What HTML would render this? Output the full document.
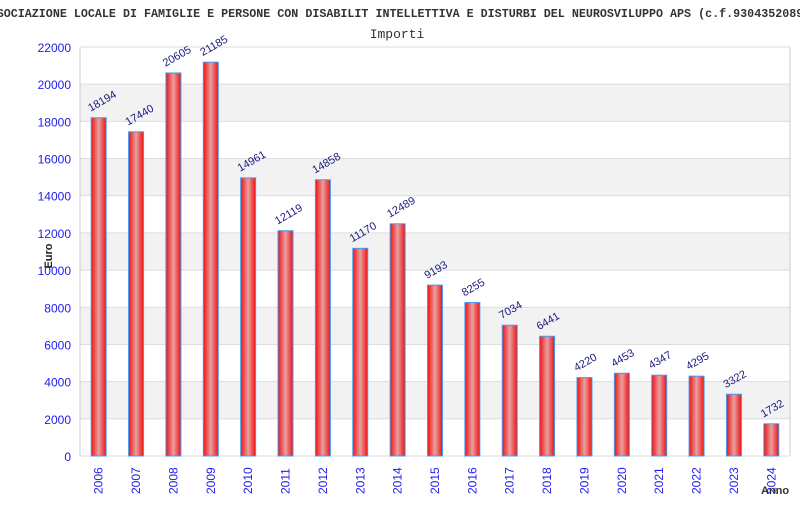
<!DOCTYPE html>
<html><head><meta charset="utf-8"><style>
body{margin:0;background:#fff;width:800px;height:500px;overflow:hidden}
</style></head><body>
<svg width="800" height="500" xmlns="http://www.w3.org/2000/svg">
<defs><linearGradient id="g" x1="0" x2="1"><stop offset="0" stop-color="#f01010"/><stop offset="0.5" stop-color="#e8a0a0"/><stop offset="1" stop-color="#f01010"/></linearGradient></defs>
<text x="400" y="17" text-anchor="middle" font-family="Liberation Mono, monospace" font-weight="bold" font-size="11.7" fill="#333">ASSOCIAZIONE LOCALE DI FAMIGLIE E PERSONE CON DISABILIT INTELLETTIVA E DISTURBI DEL NEUROSVILUPPO APS (c.f.93043520896)</text>
<text x="397" y="38" text-anchor="middle" font-family="Liberation Mono, monospace" font-size="13" fill="#333">Importi</text>
<g id="grid"></g><g id="bars"></g><g id="labels"></g>
<text transform="translate(52,256) rotate(-90)" text-anchor="middle" font-family="Liberation Sans, sans-serif" font-weight="bold" font-size="11" fill="#222">Euro</text>
<text x="775" y="494" text-anchor="middle" font-family="Liberation Sans, sans-serif" font-weight="bold" font-size="11" fill="#333">Anno</text>
</svg>
<script>
const years=["2006","2007","2008","2009","2010","2011","2012","2013","2014","2015","2016","2017","2018","2019","2020","2021","2022","2023","2024"];
const values=[18194,17440,20605,21185,14961,12119,14858,11170,12489,9193,8255,7034,6441,4220,4453,4347,4295,3322,1732];
const yTicks=[0,2000,4000,6000,8000,10000,12000,14000,16000,18000,20000,22000];
const L=80,R=790,T=47,B=456,MAX=22000;
const y=v=>B-(v/MAX)*(B-T);
const step=(R-L)/years.length;
const x=i=>L+step*(i+0.5);
const NS="http://www.w3.org/2000/svg";
function mk(t,a,p){const e=document.createElementNS(NS,t);for(const k in a)e.setAttribute(k,a[k]);p.appendChild(e);return e;}
const grid=document.getElementById('grid'),bars=document.getElementById('bars'),labels=document.getElementById('labels');
for(let k=1;k<yTicks.length-1;k+=2){const r=mk('rect',{x:L,y:y(yTicks[k+1]),width:R-L,height:y(yTicks[k])-y(yTicks[k+1]),fill:'#f2f2f2'},grid);

}
yTicks.forEach(v=>{const l=mk('line',{x1:L,x2:R,y1:y(v),y2:y(v),stroke:'#ddd'},grid);


const t=mk('text',{x:71,y:y(v)+5,'text-anchor':'end','font-family':'Liberation Sans, sans-serif','font-size':'12',fill:'#2020ee'},grid);t.textContent=v;

});
mk('line',{x1:L,x2:L,y1:T,y2:B,stroke:'#ccc'},grid);mk('line',{x1:R,x2:R,y1:T,y2:B,stroke:'#ccc'},grid);
values.forEach((v,i)=>{const cx=x(i);
const b=mk('rect',{x:cx-7.5,y:y(v),width:15,height:B-y(v),fill:'url(#g)',stroke:'#4a9af0','stroke-width':1},bars);


const t=mk('text',{transform:`translate(${cx-8},${y(v)-6}) rotate(-30)`,'font-family':'Liberation Sans, sans-serif','font-size':'11',fill:'#1a1a80'},labels);t.textContent=v;


const xt=mk('text',{transform:`translate(${cx+4},${494}) rotate(-90)`,'font-family':'Liberation Sans, sans-serif','font-size':'12',fill:'#2020ee'},labels);xt.textContent=years[i];

});
</script>
</body></html>
